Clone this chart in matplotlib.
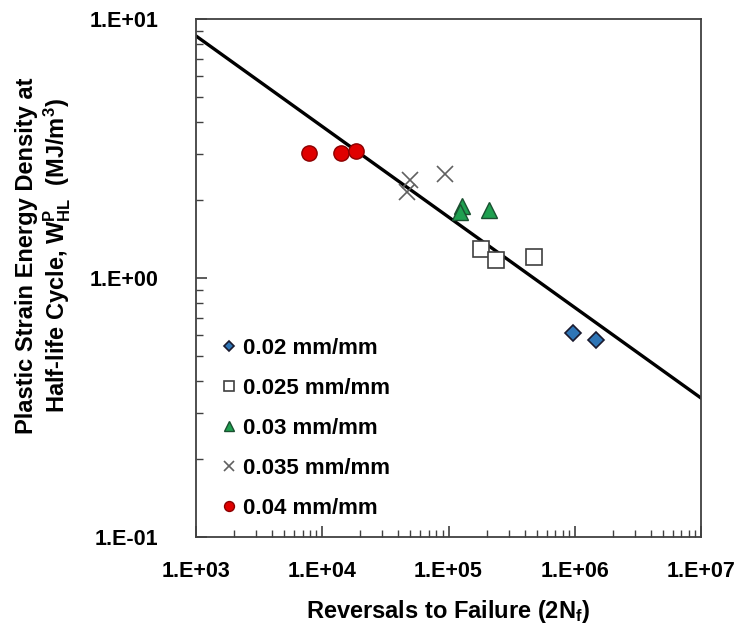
import numpy as np
import matplotlib
matplotlib.use('Agg')
import matplotlib.pyplot as plt
from matplotlib.ticker import LogLocator, FuncFormatter, NullFormatter

plt.rcParams['font.family'] = ['Liberation Sans', 'DejaVu Sans']
plt.rcParams['font.weight'] = 'bold'
plt.rcParams['mathtext.fontset'] = 'custom'
plt.rcParams['mathtext.rm'] = 'Liberation Sans:bold'
plt.rcParams['mathtext.bf'] = 'Liberation Sans:bold'
plt.rcParams['mathtext.it'] = 'Liberation Sans:bold'

# data
n_002 = [9.6e5, 1.47e6]
w_002 = [0.614, 0.577]
n_0025 = [1.8e5, 2.36e5, 4.75e5]
w_0025 = [1.29, 1.17, 1.20]
n_003 = [1.27e5, 1.24e5, 2.1e5]
w_003 = [1.90, 1.80, 1.83]
n_0035 = [4.99e4, 4.7e4, 9.3e4]
w_0035 = [2.39, 2.15, 2.51]
n_004 = [7.9e3, 1.42e4, 1.86e4]
w_004 = [3.04, 3.04, 3.09]

# fitted line end points
fit_n = [1e3, 1e7]
fit_w = [8.6, 0.344]

fig = plt.figure(figsize=(7.44, 6.34), dpi=100)
ax = fig.add_axes([196/744, 1-537/634, (701-196)/744, (537-19)/634])

ax.plot(fit_n, fit_w, color='black', lw=2.4, zorder=2)

ax.plot(n_002, w_002, ls='none', marker='D', ms=8, mfc='#2E75B6', mec='#1a1a2e', mew=1.2, label='0.02 mm/mm', zorder=3)
ax.plot(n_0025, w_0025, ls='none', marker='s', ms=12, mfc='white', mec='#404040', mew=1.2, label='0.025 mm/mm', zorder=3)
ax.plot(n_003, w_003, ls='none', marker='^', ms=12, mfc='#1FA050', mec='#1a5030', mew=1.0, label='0.03 mm/mm', zorder=3)
ax.plot(n_0035, w_0035, ls='none', marker='x', ms=12, color='#606060', mew=1.2, label='0.035 mm/mm', zorder=3)
ax.plot(n_004, w_004, ls='none', marker='o', ms=11, mfc='#E00000', mec='#8b0000', mew=1.0, label='0.04 mm/mm', zorder=3)

ax.set_xscale('log')
ax.set_yscale('log')
ax.set_xlim(1e3, 1e7)
ax.set_ylim(0.1, 10)

fmt = FuncFormatter(lambda v, _: '1.E{:+03d}'.format(int(round(np.log10(v)))))
ax.xaxis.set_major_locator(LogLocator(base=10, numticks=10))
ax.yaxis.set_major_locator(LogLocator(base=10, numticks=10))
ax.xaxis.set_major_formatter(fmt)
ax.yaxis.set_major_formatter(fmt)
ax.xaxis.set_minor_locator(LogLocator(base=10, subs=np.arange(2, 10), numticks=10))
ax.yaxis.set_minor_locator(LogLocator(base=10, subs=np.arange(2, 10), numticks=10))
ax.xaxis.set_minor_formatter(NullFormatter())
ax.yaxis.set_minor_formatter(NullFormatter())

ax.tick_params(which='both', direction='in', top=False, right=False, color='#404040')
ax.tick_params(which='major', length=8, width=1.2)
ax.tick_params(which='minor', length=5, width=1.0)
ax.tick_params(axis='x', which='major', pad=17, labelsize=15.5)
ax.tick_params(axis='y', which='major', pad=27, labelsize=15.5)
for s in ax.spines.values():
    s.set_color('#404040')
    s.set_linewidth(1.3)

fig.text(44/744, 1-256/634,
         'Plastic Strain Energy Density at\nHalf-life Cycle, W$^{P}_{HL}$  (MJ/m$^{3}$)',
         rotation=90, ha='center', va='center', fontsize=17, fontweight='bold',
         multialignment='center', linespacing=1.1)
ax.set_xlabel('Reversals to Failure (2N$_{f}$)', fontsize=17, fontweight='bold', labelpad=12)

leg = ax.legend(loc='lower left', bbox_to_anchor=(0.035, 0.018), frameon=False,
                fontsize=16, markerscale=0.65, handlelength=0.6, handletextpad=0.3,
                labelspacing=0.85, borderaxespad=0)

fig.savefig('out.png', dpi=100)
